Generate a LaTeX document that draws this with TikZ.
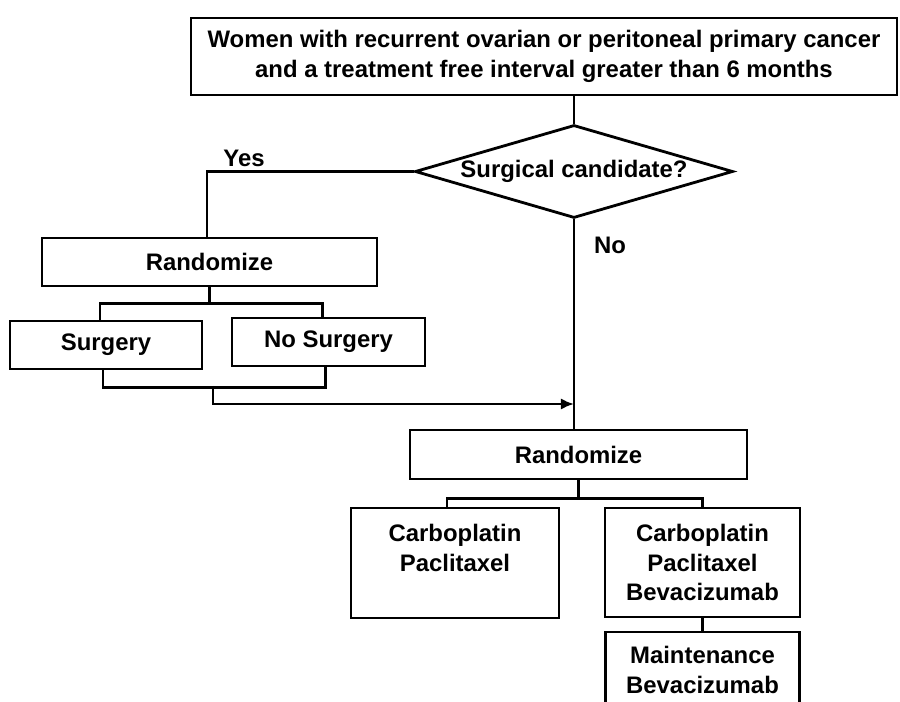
\documentclass[tikz,border=0pt]{standalone}
\usepackage{fontspec}
\setmainfont{Liberation Sans}
\usepackage{tikz}
\usetikzlibrary{calc, shapes.geometric, positioning, arrows.meta}

\begin{document}
\begin{tikzpicture}[>={Latex[length=7.5pt,width=6.5pt]}, x=0.02cm, y=-0.02cm,
    every node/.style={font=\bfseries\fontsize{13.6}{17}\selectfont},
    box/.style={draw, line width=1.6pt, align=center, inner sep=0pt},
    link/.style={line width=1.6pt}]

    % page frame (pixel units, y grows downwards)
    \useasboundingbox (0,0) rectangle (900,702);
    \clip (0,0) rectangle (900,702);

    % =================================================================
    % TOP: ENTRY BOX AND DECISION
    % =================================================================
    \node[box, minimum width=14.12cm, minimum height=1.54cm] (women) at (544,56.5)
        {Women with recurrent ovarian or peritoneal primary cancer\\
         and a treatment free interval greater than 6 months};
    \node[draw, diamond, line width=1.6pt, aspect=3.4, inner sep=0pt,
          minimum width=6.36cm, minimum height=1.86cm] (cand) at (574,171.5)
        {Surgical candidate?};

    \node[anchor=base] (yes) at (244,166.7) {Yes};
    \node[anchor=base] (no) at (610,253.3) {No};

    % =================================================================
    % LEFT: SURGICAL RANDOMIZATION
    % =================================================================
    \node[box, minimum width=6.7cm, minimum height=0.96cm] (rand1) at (209.5,262) {Randomize};
    \node[box, minimum width=3.84cm, minimum height=0.96cm] (surg) at (106,345) {Surgery};
    \node[box, minimum width=3.86cm, minimum height=0.96cm] (nosurg) at (328.5,342) {No Surgery};

    % =================================================================
    % RIGHT: CHEMOTHERAPY RANDOMIZATION
    % =================================================================
    \node[box, minimum width=6.74cm, minimum height=0.98cm] (rand2) at (578.5,454.5) {Randomize};
    \node[box, minimum width=4.16cm, minimum height=2.2cm] (carbA) at (455,563)
        {Carboplatin\\Paclitaxel\\\mbox{}};
    \node[box, minimum width=3.9cm, minimum height=2.18cm] (carbB) at (702.5,562.5)
        {Carboplatin\\Paclitaxel\\Bevacizumab};
    \node[box, minimum width=3.88cm, minimum height=1.52cm] (maint) at (702.5,670)
        {Maintenance\\Bevacizumab};

    % connectors
    \draw[link] (women.south -| cand.north) -- (cand.north);
    \draw[link] (cand.west) -| ([xshift=-0.05cm]rand1.north);
    \draw[link] (rand1.south) -- ++(0,16) -| ([xshift=-0.12cm]surg.north);
    \draw[link] (rand1.south) ++(0,16) -| ([xshift=-0.12cm]nosurg.north);
    \draw[link] ([xshift=-0.06cm]surg.south) -- ++(0,17) -| ([xshift=-0.06cm]nosurg.south);
    \coordinate (merge) at ([xshift=0.07cm]rand1.south |- 0,386);
    \coordinate (bend) at ([xshift=0.07cm]rand1.south |- 0,404);
    \draw[link, ->] (merge) -- (bend) -- (bend -| cand.south);
    \draw[link] (cand.south) -- (cand.south |- rand2.north);
    \draw[link] (rand2.south) -- ++(0,18) -| ([xshift=-0.16cm]carbA.north);
    \draw[link] (rand2.south) ++(0,18) -| (carbB.north);
    \draw[link] (carbB.south) -- (maint.north);

\end{tikzpicture}
\end{document}
